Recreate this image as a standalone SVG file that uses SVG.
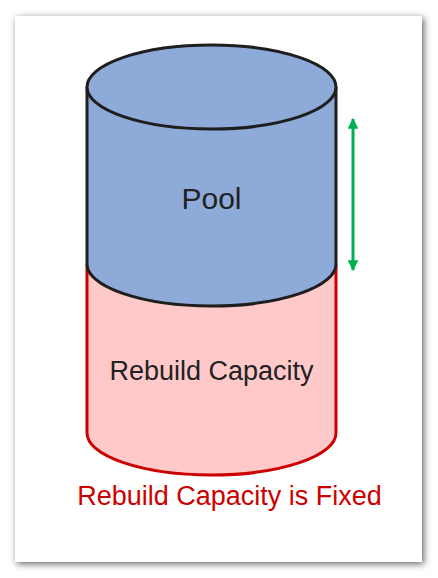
<svg xmlns="http://www.w3.org/2000/svg" width="438" height="578" viewBox="0 0 438 578">
  <style>
    .lbl { font-family: "Liberation Sans", Arial, sans-serif; fill: #222222; text-anchor: middle; }
    .red-lbl { font-family: "Liberation Sans", Arial, sans-serif; fill: #cc0000; text-anchor: middle; }
    .blue { fill: #8eaad8; stroke: #1e1e1e; stroke-width: 3; }
    .pink { fill: #ffc9c9; stroke: #cc0000; stroke-width: 3; }
    .arrow { stroke: #00b050; stroke-width: 3; fill: none; }
  </style>
  <defs>
    <filter id="shadow" x="-10%" y="-10%" width="120%" height="120%">
      <feDropShadow dx="2" dy="2" stdDeviation="3.5" flood-color="#000" flood-opacity="0.6"/>
    </filter>
    <marker id="ah" viewBox="0 0 10 10" refX="9" refY="5" markerWidth="3.6" markerHeight="3.6" orient="auto-start-reverse" markerUnits="strokeWidth">
      <path d="M0,0 L10,5 L0,10 Z" fill="#00b050"/>
    </marker>
  </defs>

  <rect x="0" y="0" width="438" height="578" fill="#ffffff"/>
  <rect id="frame" x="15" y="16" width="407" height="546" fill="#ffffff" filter="url(#shadow)"/>

  <g id="rebuild-capacity">
    <path class="pink" d="M87,264 L87,433 A124.5,42 0 0 0 336,433 L336,264"/>
    <text class="lbl" x="211.5" y="380" font-size="27">Rebuild Capacity</text>
  </g>

  <g id="pool">
    <path class="blue" d="M87,87 L87,264 A124.5,42 0 0 0 336,264 L336,87"/>
    <ellipse class="blue" cx="211.5" cy="87" rx="124.5" ry="42"/>
    <text class="lbl" x="211.5" y="209" font-size="30">Pool</text>
  </g>

  <g id="connectors">
    <line class="arrow" x1="353" y1="119" x2="353" y2="270" marker-start="url(#ah)" marker-end="url(#ah)"/>
  </g>

  <g id="caption">
    <text class="red-lbl" x="229.5" y="505" font-size="27">Rebuild Capacity is Fixed</text>
  </g>
</svg>
